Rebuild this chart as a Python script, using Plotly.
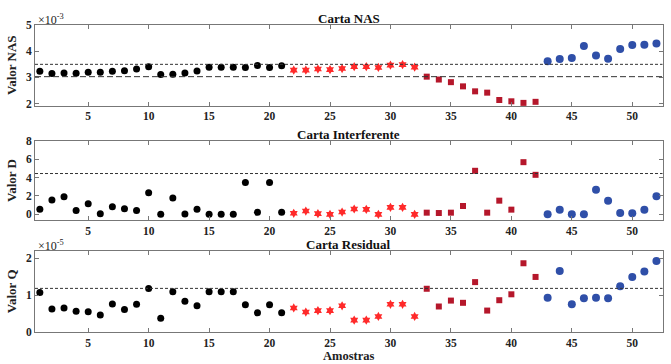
import plotly.graph_objects as go

# ---- data ----
amostras = list(range(1, 53))
# Carta NAS (x10^-3)
nas = [3.24, 3.15, 3.17, 3.16, 3.20, 3.20, 3.24, 3.26, 3.32, 3.41,
       3.11, 3.12, 3.17, 3.25, 3.39, 3.39, 3.39, 3.38, 3.46, 3.38, 3.45,
       3.28, 3.28, 3.32, 3.30, 3.34, 3.41, 3.41, 3.38, 3.47, 3.49, 3.39,
       3.03, 2.92, 2.82, 2.66, 2.47, 2.42, 2.14, 2.09, 2.03, 2.07,
       3.62, 3.70, 3.74, 4.20, 3.84, 3.71, 4.08, 4.24, 4.25, 4.29]
# Carta Interferente
dval = [0.54, 1.56, 1.92, 0.43, 1.16, 0.07, 0.83, 0.62, 0.43, 2.36,
        0.00, 1.78, 0.04, 0.54, 0.00, 0.00, 0.00, 3.48, 0.22, 3.48, 0.22,
        0.11, 0.36, 0.07, 0.00, 0.25, 0.58, 0.54, 0.00, 0.76, 0.76, 0.00,
        0.18, 0.14, 0.18, 0.91, 4.75, 0.18, 1.49, 0.51, 5.69, 4.31,
        0.00, 0.51, 0.00, 0.00, 2.68, 1.49, 0.14, 0.11, 0.51, 1.96]
# Carta Residual (x10^-5)
qval = [1.07, 0.62, 0.65, 0.56, 0.55, 0.46, 0.76, 0.61, 0.75, 1.18,
        0.37, 1.09, 0.83, 0.71, 1.09, 1.09, 1.09, 0.74, 0.52, 0.74, 0.52,
        0.65, 0.54, 0.58, 0.58, 0.71, 0.32, 0.32, 0.42, 0.75, 0.75, 0.42,
        1.17, 0.69, 0.85, 0.79, 1.35, 0.58, 0.86, 1.02, 1.86, 1.49,
        0.93, 1.65, 0.75, 0.91, 0.93, 0.91, 1.24, 1.49, 1.64, 1.92]

nas_limits = [3.50, 3.03]
d_limit = [4.45]
q_limit = [1.18]

groups = [  # (start, end) sample index ranges, 1-based inclusive
    (1, 21), (22, 32), (33, 42), (43, 52)]
g_colors = ["#000000", "#ff2a2a", "#b5172b", "#2f4fa8"]
g_symbols = ["circle", "hexagram", "square", "circle"]
g_sizes = [7, 7, 6, 8]

FONT = "Liberation Serif"
W, H = 671, 364

fig = go.Figure()

panels = [
    dict(y=nas, xa="x", ya="y", dom=(25, 105.5), rng=[1.93, 5.0], tick=[2, 3, 4, 5],
         title="Carta NAS", ylab="Valor NAS", exp="×10<sup>-3</sup>",
         lines=[(nas_limits[0], "3px,2px"), (nas_limits[1], "6px,3px")]),
    dict(y=dval, xa="x2", ya="y2", dom=(141, 220), rng=[-0.62, 8], tick=[0, 2, 4, 6, 8],
         title="Carta Interferente", ylab="Valor D", exp=None,
         lines=[(d_limit[0], "3px,2px")]),
    dict(y=qval, xa="x3", ya="y3", dom=(250.7, 332), rng=[0, 2.2], tick=[0, 1, 2],
         title="Carta Residual", ylab="Valor Q", exp="×10<sup>-5</sup>",
         lines=[(q_limit[0], "3px,2px")]),
]

layout = {}
for i, p in enumerate(panels):
    for (s, e), c, sym, sz in zip(groups, g_colors, g_symbols, g_sizes):
        fig.add_trace(go.Scatter(
            x=amostras[s - 1:e], y=p["y"][s - 1:e], mode="markers",
            marker=dict(color=c, symbol=sym, size=sz, line=dict(width=0)),
            xaxis=p["xa"], yaxis=p["ya"], showlegend=False, cliponaxis=False))
    suffix = "" if i == 0 else str(i + 1)
    y0 = 1 - p["dom"][1] / H
    y1 = 1 - p["dom"][0] / H
    layout["xaxis" + suffix] = dict(
        domain=[35 / W, 662.5 / W], range=[0.6, 52.5], anchor="y" + suffix,
        tickvals=[5, 10, 15, 20, 25, 30, 35, 40, 45, 50], automargin=False,
        ticks="inside", ticklen=4, tickcolor="#777", mirror="ticks",
        showline=True, linecolor="#777", linewidth=1, showgrid=False, zeroline=False,
        tickfont=dict(family=FONT, size=11.5, color="#222", weight="bold"))
    layout["yaxis" + suffix] = dict(
        domain=[y0, y1], range=p["rng"], anchor="x" + suffix, tickvals=p["tick"],
        ticks="inside", ticklen=4, tickcolor="#777", mirror="ticks", automargin=False,
        showline=True, linecolor="#777", linewidth=1, showgrid=False, zeroline=False,
        tickfont=dict(family=FONT, size=11.5, color="#222", weight="bold"),
        title=dict(text=p["ylab"], standoff=6,
                   font=dict(family=FONT, size=13, color="#222", weight="bold")))
    for yv, dash in p["lines"]:
        fig.add_shape(type="line", xref="x" + suffix + " domain", yref="y" + suffix,
                      x0=0, x1=1, y0=yv, y1=yv,
                      line=dict(color="#333", width=1, dash=dash))
    fig.add_annotation(text="<b>" + p["title"] + "</b>", xref="paper", yref="paper",
                       x=(35 + 662.5) / 2 / W, y=y1, yanchor="bottom", xanchor="center",
                       yshift=-3, showarrow=False,
                       font=dict(family=FONT, size=13, color="#111"))
    if p["exp"]:
        fig.add_annotation(text=p["exp"], xref="paper", yref="paper",
                           x=36 / W, y=y1, yanchor="bottom", xanchor="left",
                           yshift=-4, showarrow=False,
                           font=dict(family=FONT, size=12, color="#222"))

fig.add_annotation(text="<b>Amostras</b>", xref="paper", yref="paper",
                   x=(35 + 662.5) / 2 / W, y=0, yanchor="bottom", yshift=-1,
                   xanchor="center", showarrow=False,
                   font=dict(family=FONT, size=12.5, color="#222"))

fig.update_layout(width=W, height=H, margin=dict(l=0, r=0, t=0, b=0),
                  paper_bgcolor="white", plot_bgcolor="white", **layout)

fig.write_html("out.html", config={"displayModeBar": False},
               post_script="document.body.style.margin='0';"
                           "document.body.style.overflow='hidden';")
